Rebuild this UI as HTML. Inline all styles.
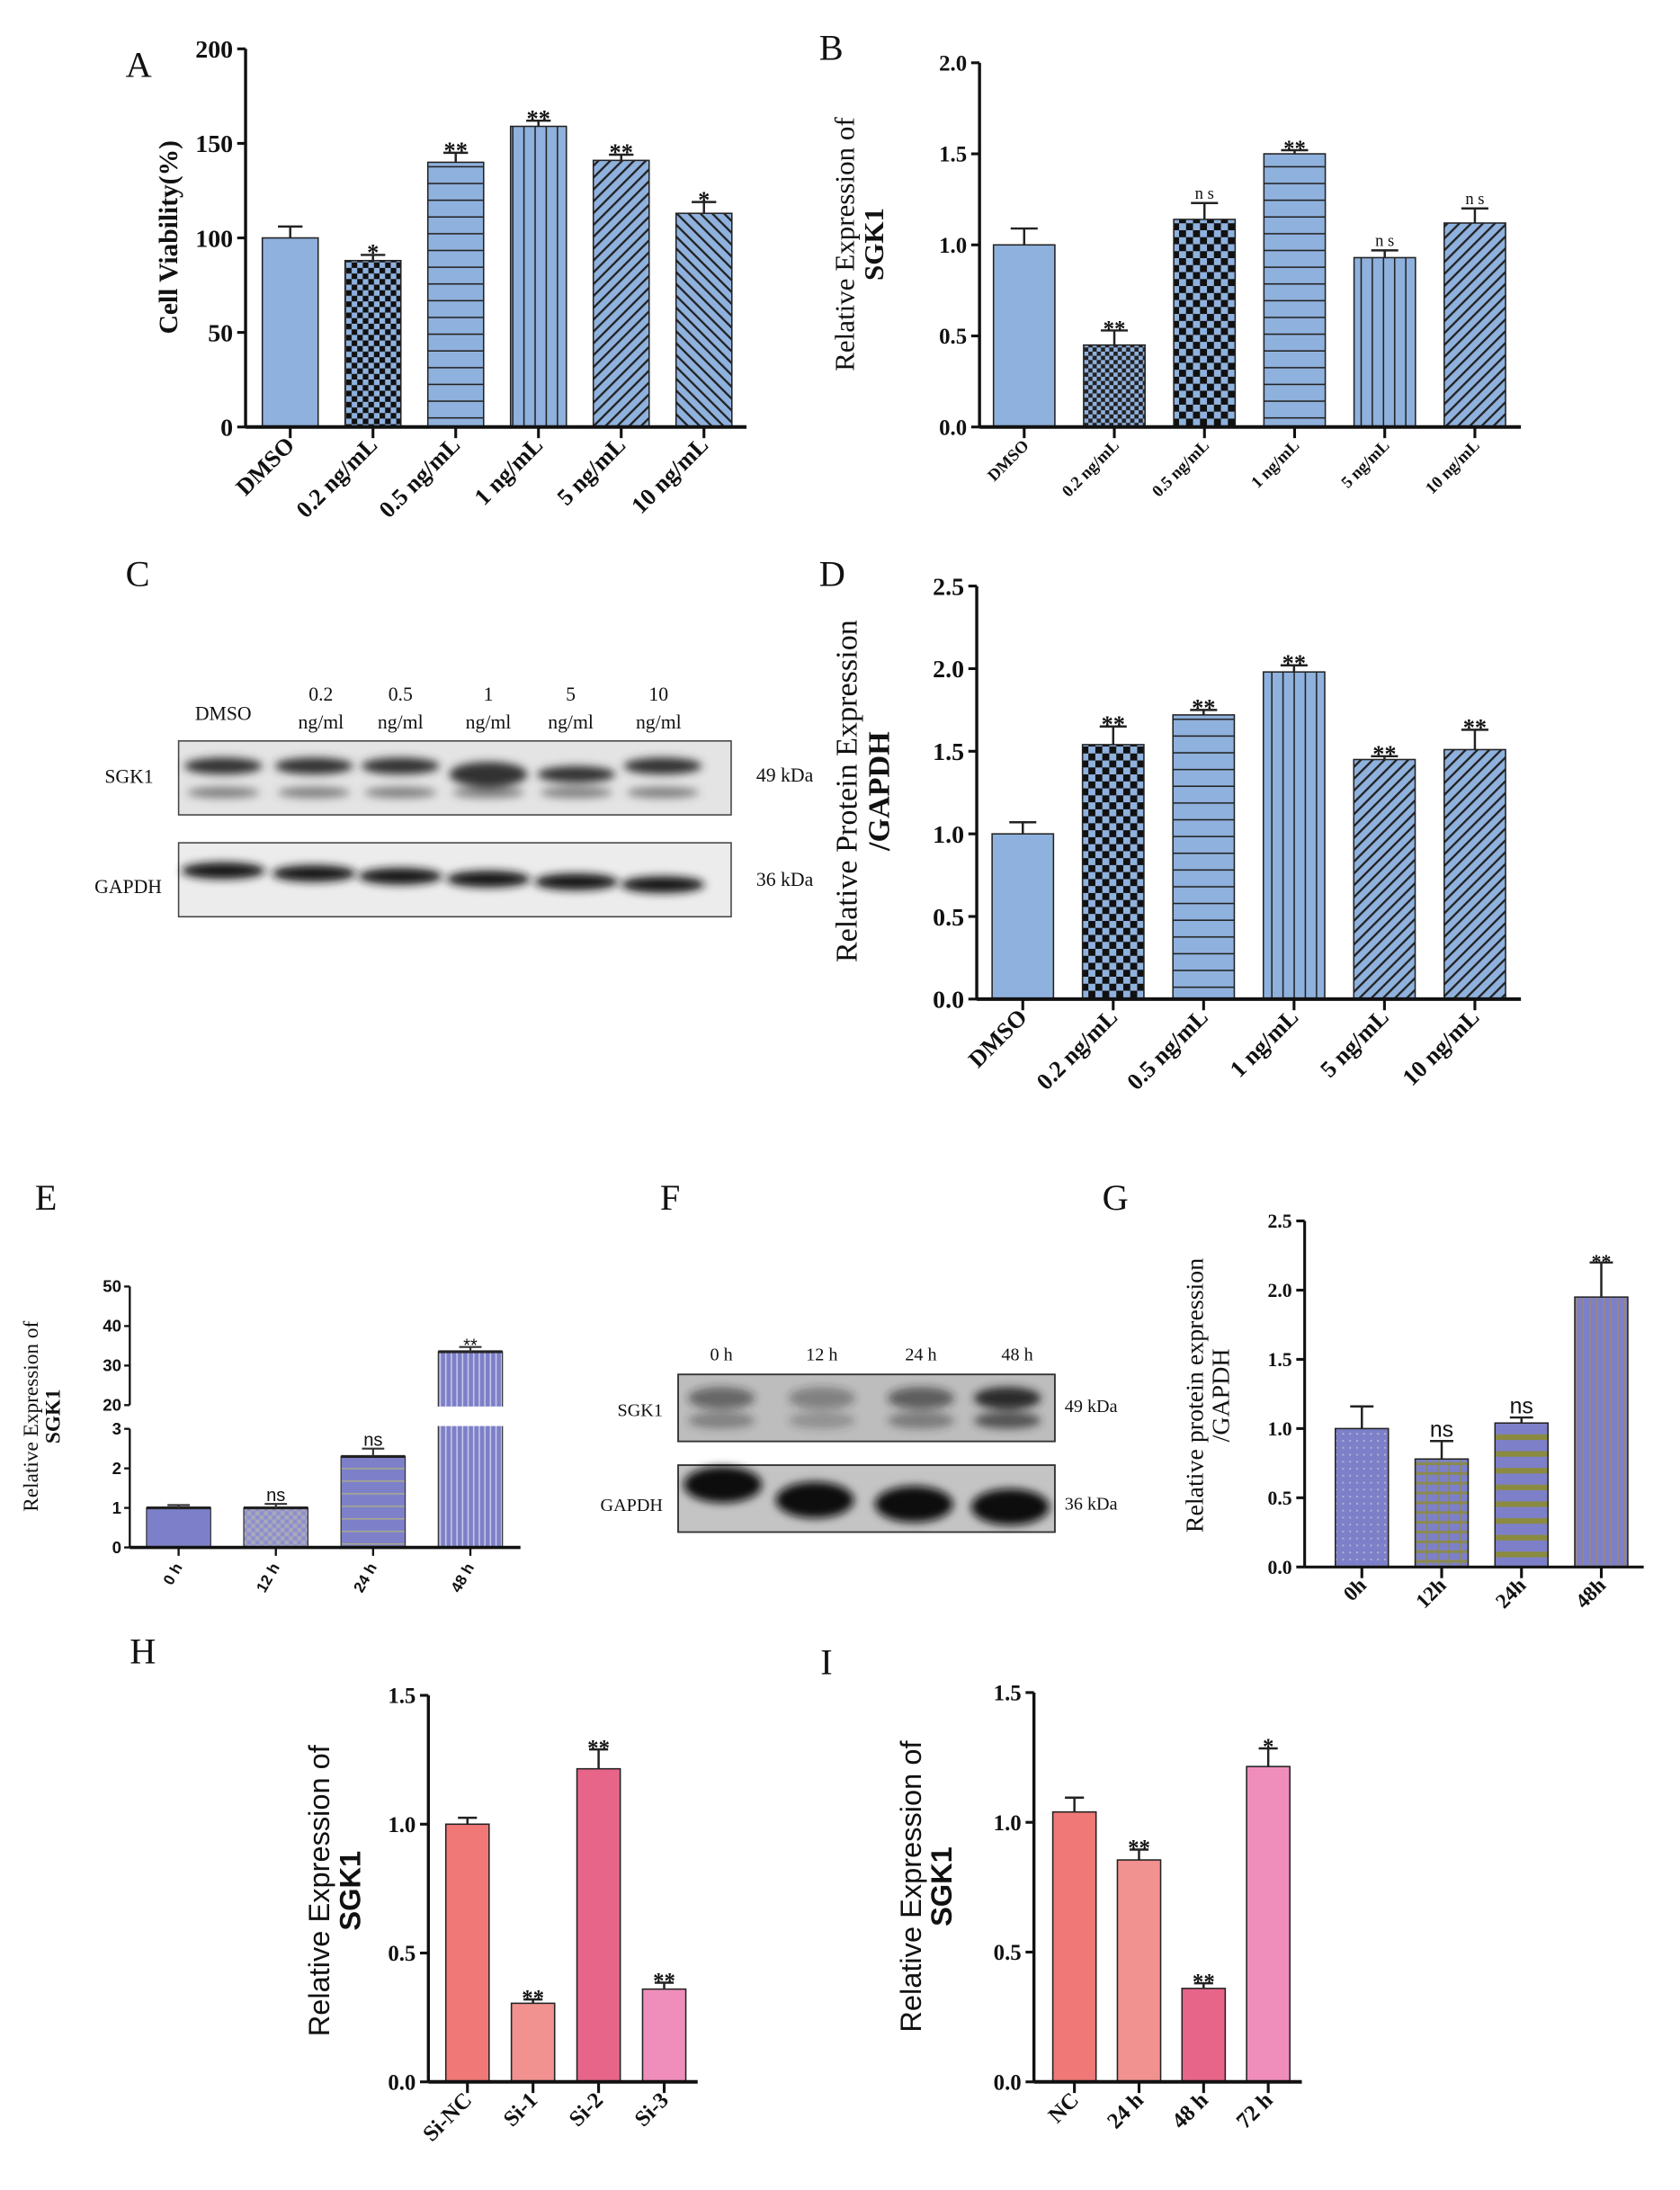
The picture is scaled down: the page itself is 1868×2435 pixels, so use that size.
<!DOCTYPE html>
<html><head><meta charset="utf-8"><style>
html,body{margin:0;padding:0;background:#fff;}
svg{display:block;}
text{font-family:"Liberation Serif",serif;fill:#111;}
.sans{font-family:"Liberation Sans",sans-serif;}
</style></head><body>
<svg id="fig" xmlns="http://www.w3.org/2000/svg" width="1868" height="2435" viewBox="0 0 1204 1569.5" preserveAspectRatio="none">
<defs>
<pattern id="checker" width="8" height="8" patternUnits="userSpaceOnUse"><rect width="8" height="8" fill="#8fb1dd"/><rect width="4" height="4" fill="#111"/><rect x="4" y="4" width="4" height="4" fill="#111"/></pattern>
<pattern id="checkerB" width="10" height="10" patternUnits="userSpaceOnUse"><rect width="10" height="10" fill="#8fb1dd"/><rect width="5" height="5" fill="#111"/><rect x="5" y="5" width="5" height="5" fill="#111"/></pattern>
<pattern id="checkerS" width="6" height="6" patternUnits="userSpaceOnUse"><rect width="6" height="6" fill="#8fb1dd"/><rect width="3" height="3" fill="#222"/><rect x="3" y="3" width="3" height="3" fill="#222"/></pattern>
<pattern id="hlines" width="8" height="12" patternUnits="userSpaceOnUse"><rect width="8" height="12" fill="#8fb1dd"/><rect y="11" width="8" height="1.4" fill="#222"/></pattern>
<pattern id="vlines" width="8" height="8" patternUnits="userSpaceOnUse"><rect width="8" height="8" fill="#8fb1dd"/><rect x="7" width="1.2" height="8" fill="#222"/></pattern>
<pattern id="diag1" width="6" height="6" patternUnits="userSpaceOnUse" patternTransform="rotate(45)"><rect width="6" height="6" fill="#8fb1dd"/><rect width="1.5" height="6" fill="#222"/></pattern>
<pattern id="diag2" width="6" height="6" patternUnits="userSpaceOnUse" patternTransform="rotate(-45)"><rect width="6" height="6" fill="#8fb1dd"/><rect width="1.5" height="6" fill="#222"/></pattern>
<pattern id="eChk" width="6" height="6" patternUnits="userSpaceOnUse"><rect width="6" height="6" fill="#8e8fcf"/><rect width="3" height="3" fill="#a9a9b9"/><rect x="3" y="3" width="3" height="3" fill="#a9a9b9"/></pattern>
<pattern id="eH" width="6" height="9" patternUnits="userSpaceOnUse"><rect width="6" height="9" fill="#7d80c8"/><rect y="8" width="6" height="1" fill="#a8a890"/></pattern>
<pattern id="eV" width="4" height="6" patternUnits="userSpaceOnUse"><rect width="4" height="6" fill="#7d80c8"/><rect x="3" width="1" height="6" fill="#c8c8e8"/></pattern>
<pattern id="gDot" width="5" height="5" patternUnits="userSpaceOnUse"><rect width="5" height="5" fill="#7d80c8"/><rect x="2" y="2" width="1.2" height="1.2" fill="#b8b8d8"/></pattern>
<pattern id="gGrid" width="8" height="7" patternUnits="userSpaceOnUse"><rect width="8" height="7" fill="#7d80c8"/><rect y="5" width="8" height="2" fill="#8a8a50"/><rect x="6" width="1" height="7" fill="#8a8a50"/></pattern>
<pattern id="gH" width="6" height="12" patternUnits="userSpaceOnUse"><rect width="6" height="12" fill="#7d80c8"/><rect y="8" width="6" height="4" fill="#8a8a40"/></pattern>
<pattern id="gV" width="5" height="6" patternUnits="userSpaceOnUse"><rect width="5" height="6" fill="#7d80c8"/><rect x="4" width="1" height="6" fill="#9c8870"/></pattern>
<filter id="blur2"><feGaussianBlur stdDeviation="3"/></filter>
<filter id="blur1"><feGaussianBlur stdDeviation="1.5"/></filter>
</defs>
<g id="root"></g>
</svg>
<script>
// ---------- data ----------
const aCats = ["DMSO","0.2 ng/mL","0.5 ng/mL","1 ng/mL","5 ng/mL","10 ng/mL"];
const aVals = [100,88,140,159,141,113];
const aErrs = [6,3,5,3,3,6];
const aStars = ["","*","**","**","**","*"];
const aTicks = [0,50,100,150,200];

const bCats = ["DMSO","0.2 ng/mL","0.5 ng/mL","1 ng/mL","5 ng/mL","10 ng/mL"];
const bVals = [1.0,0.45,1.14,1.5,0.93,1.12];
const bErrs = [0.09,0.08,0.09,0.02,0.04,0.08];
const bStars = ["","**","ns","**","ns","ns"];
const bTicks = [0,0.5,1.0,1.5,2.0];

const dCats = ["DMSO","0.2 ng/mL","0.5 ng/mL","1 ng/mL","5 ng/mL","10 ng/mL"];
const dVals = [1.0,1.54,1.72,1.98,1.45,1.51];
const dErrs = [0.07,0.11,0.03,0.04,0.02,0.12];
const dStars = ["","**","**","**","**","**"];
const dTicks = [0,0.5,1.0,1.5,2.0,2.5];

const eCats = ["0 h","12 h","24 h","48 h"];
const eVals = [1.0,1.0,2.3,33.5];
const eErrs = [0.07,0.1,0.2,1.2];
const eStars = ["","ns","ns","**"];
const eTicksLow = [0,1,2,3];
const eTicksHigh = [20,30,40,50];

const gCats = ["0h","12h","24h","48h"];
const gVals = [1.0,0.78,1.04,1.95];
const gErrs = [0.16,0.13,0.04,0.25];
const gStars = ["","ns","ns","**"];
const gTicks = [0,0.5,1.0,1.5,2.0,2.5];

const hCats = ["Si-NC","Si-1","Si-2","Si-3"];
const hVals = [1.0,0.305,1.215,0.36];
const hErrs = [0.025,0.015,0.075,0.025];
const hStars = ["","**","**","**"];
const hTicks = [0,0.5,1.0,1.5];

const iCats = ["NC","24 h","48 h","72 h"];
const iVals = [1.04,0.855,0.36,1.215];
const iErrs = [0.055,0.04,0.02,0.07];
const iStars = ["","**","**","*"];
const iTicks = [0,0.5,1.0,1.5];

// ---------- helpers ----------
const NS="http://www.w3.org/2000/svg";
const root=document.getElementById('root');
function mk(tag,attrs,parent,txt){const e=document.createElementNS(NS,tag);for(const k in attrs)e.setAttribute(k,attrs[k]);if(txt!==undefined)e.textContent=txt;(parent||root).appendChild(e);return e;}
function fmt(v,dec){return dec?v.toFixed(1):String(v);}

function chart(c){
  const g=mk('g',{});
  
  
  const y=v=>c.y0-(v-c.min)/(c.max-c.min)*(c.y0-c.yTop);
  const bx=i=>c.first+i*c.step;
  c.vals.forEach((v,i)=>{
    const x=bx(i);
    const r=mk('rect',{x:x-c.bw/2,y:y(v),width:c.bw,height:c.y0-y(v),fill:c.fills[i],stroke:'#222','stroke-width':1},g);
    
    
    const et=y(v+c.errs[i]);
    const eb=mk('path',{d:`M${x} ${y(v)}V${et}M${x-c.bw*0.22} ${et}H${x+c.bw*0.22}`,stroke:'#222','stroke-width':1.6,fill:'none'},g);
    
    
    if(c.stars[i]){
      const isNs=c.stars[i]==='ns';
      const t=mk('text',{x:x,y:et-(isNs?3:-4),'text-anchor':'middle','font-size':isNs?c.nsSize:c.starSize,'font-weight':isNs?'normal':'bold',class:c.nsSans&&isNs?'sans':''},g,isNs&&c.nsSpaced?'n s':c.stars[i]);
      
      
    }
  });
  const ax=mk('path',{d:`M${c.ax} ${c.yTop}V${c.y0}`,stroke:'#111','stroke-width':c.axw||2.2,fill:'none'},g);
  
  
  const xa=mk('path',{d:`M${c.ax} ${c.y0}H${c.xEnd}`,stroke:'#111','stroke-width':c.axw||2.6,fill:'none'},g);
  
  
  c.ticks.forEach(t=>{
    mk('path',{d:`M${c.ax-6} ${y(t)}H${c.ax}`,stroke:'#111','stroke-width':2},g);
    const tl=mk('text',{x:c.ax-9,y:y(t)+c.tickSize*0.35,'text-anchor':'end','font-size':c.tickSize,'font-weight':'bold'},g,fmt(t,c.dec));
    
    
  });
  c.cats.forEach((cat,i)=>{
    const x=bx(i);
    mk('path',{d:`M${x} ${c.y0}V${c.y0+8}`,stroke:'#111','stroke-width':2},g);
    const tl=mk('text',{x:x+4,y:c.y0+14,'text-anchor':'end','font-size':c.catSize,'font-weight':'bold',transform:`rotate(-45 ${x+4} ${c.y0+14})`,class:c.catSans?'sans':''},g,cat);
    
    
  });
  return {g,y};
}
function ytitle(name,x,cy,lines,size,cls){
  const t=mk('text',{x:0,y:0,'text-anchor':'middle','font-size':size,transform:`translate(${x} ${cy}) rotate(-90)`,class:cls||''});
  
  
  lines.forEach((l,i)=>{mk('tspan',{x:0,dy:i?size*1.05:0,'font-weight':l.b?'bold':'normal'},t,l.t);});
}
function panelLabel(l,x,y){const t=mk('text',{x:x,y:y,'font-size':26},root,l);}

// ---------- A ----------
panelLabel('A',90,55);
chart({name:'chart-a-cell-viability',cats:aCats,vals:aVals,errs:aErrs,stars:aStars,ticks:aTicks,min:0,max:200,y0:306,yTop:35,ax:176,xEnd:535,first:208,step:59.3,bw:40,
  fills:['#8fb1dd','url(#checker)','url(#hlines)','url(#vlines)','url(#diag1)','url(#diag2)'],tickSize:18,catSize:17,starSize:17,nsSize:13});
ytitle('y-axis-title-a',127,170,[{t:'Cell Viability(%)',b:1}],19);

// ---------- B ----------
panelLabel('B',587,43);
chart({name:'chart-b-sgk1-mrna',cats:bCats,vals:bVals,errs:bErrs,stars:bStars,ticks:bTicks,min:0,max:2,y0:306,yTop:45,ax:702,xEnd:1090,first:734,step:64.6,bw:44,dec:1,
  fills:['#8fb1dd','url(#checkerS)','url(#checkerB)','url(#hlines)','url(#vlines)','url(#diag1)'],tickSize:16,catSize:12,starSize:16,nsSize:12,nsSpaced:1});
ytitle('y-axis-title-b',612,175,[{t:'Relative Expression of'},{t:'SGK1',b:1}],20);

// ---------- C (western blot) ----------
panelLabel('C',90,420);
(function(){
  const g=mk('g',{});
  const lanes=[160,230,287,350,409,472];
  const labs=[["DMSO"],["0.2","ng/ml"],["0.5","ng/ml"],["1","ng/ml"],["5","ng/ml"],["10","ng/ml"]];
  labs.forEach((l,i)=>{l.forEach((s,j)=>{const t=mk('text',{x:lanes[i],y:(l.length===1?516:502+j*20),'text-anchor':'middle','font-size':14},g,s);});});
  mk('rect',{x:128,y:531,width:396,height:53,fill:'#e4e4e4',stroke:'#444','stroke-width':1},g);
  mk('rect',{x:128,y:604,width:396,height:53,fill:'#ececec',stroke:'#444','stroke-width':1},g);
  const bandX=[160,225,287,350,413,475];
  const sg=mk('g',{filter:'url(#blur2)'},g);
  bandX.forEach((x,i)=>{
    mk('ellipse',{cx:x,cy:i==3||i==4?555:549,rx:28,ry:i==3?9:6,fill:'#333'},sg);
    mk('ellipse',{cx:x,cy:568,rx:26,ry:4,fill:'#555',opacity:0.7},sg);
    mk('ellipse',{cx:x,cy:624+i*2,rx:30,ry:6,fill:'#151515'},sg);
  });
  [["SGK1",110,561,'#888'],["GAPDH",116,640,'#111']].forEach(a=>{const t=mk('text',{x:a[1],y:a[2],'text-anchor':'end','font-size':14,fill:a[3]},g,a[0]);});
  [["49 kDa",560],["36 kDa",635]].forEach(a=>{const t=mk('text',{x:542,y:a[1],'font-size':14},g,a[0]);});
})();

// ---------- D ----------
panelLabel('D',587,420);
chart({name:'chart-d-protein',cats:dCats,vals:dVals,errs:dErrs,stars:dStars,ticks:dTicks,min:0,max:2.5,y0:716,yTop:420,ax:700,xEnd:1090,first:733,step:64.8,bw:44,dec:1,
  fills:['#8fb1dd','url(#checkerB)','url(#hlines)','url(#vlines)','url(#diag1)','url(#diag1)'],tickSize:18,catSize:17,starSize:17,nsSize:13});
ytitle('y-axis-title-d',614,567,[{t:'Relative Protein Expression'},{t:'/GAPDH',b:1}],22);

// ---------- E (broken axis) ----------
panelLabel('E',25,867);
(function(){
  const g=mk('g',{});
  const y0=1109,yL3=1024,yH20=1007,yH50=922;
  const y=v=>v<=3? y0-v/3*(y0-yL3) : yH20-(v-20)/30*(yH20-yH50);
  const first=128,step=69.7,bw=46;
  const fills=['#7d80c8','url(#eChk)','url(#eH)','url(#eV)'];
  eVals.forEach((v,i)=>{
    const x=first+i*step;
    const r=mk('rect',{x:x-bw/2,y:y(v),width:bw,height:y0-y(v),fill:fills[i],stroke:'#333','stroke-width':0.8},g);
    
    
    if(v>3) mk('rect',{x:x-bw/2-1,y:yH20+1,width:bw+2,height:yL3-yH20-3,fill:'#fff'},g);
    mk('path',{d:`M${x-bw/2} ${y(v)}H${x+bw/2}`,stroke:'#222','stroke-width':2},g);
    const et=y(v+eErrs[i]);
    const eb=mk('path',{d:`M${x} ${y(v)}V${et}M${x-8} ${et}H${x+8}`,stroke:'#333','stroke-width':1.4,fill:'none'},g);
    
    if(eStars[i]){const t=mk('text',{x:x,y:et-(eStars[i]==='ns'?2:-3),'text-anchor':'middle','font-size':13,class:'sans'},g,eStars[i]);}
    mk('path',{d:`M${x} ${y0}V${y0+6}`,stroke:'#111','stroke-width':1.5},g);
    const tl=mk('text',{x:x+3,y:y0+14,'text-anchor':'end','font-size':11,'font-weight':'bold',class:'sans',transform:`rotate(-60 ${x+3} ${y0+14})`},g,eCats[i]);
    
  });
  mk('path',{d:`M93 ${y0}V${yL3}M93 ${yH20}V${yH50}`,stroke:'#111','stroke-width':1.5,fill:'none'},g);
  mk('path',{d:`M93 ${y0}H373`,stroke:'#111','stroke-width':2.4},g);
  eTicksLow.concat(eTicksHigh).forEach(t=>{
    mk('path',{d:`M89 ${y(t)}H93`,stroke:'#111','stroke-width':1.5},g);
    const tl=mk('text',{x:87,y:y(t)+4,'text-anchor':'end','font-size':12,'font-weight':'bold',class:'sans'},g,String(t));
    
  });
})();
ytitle('y-axis-title-e',27,1015,[{t:'Relative Expression of'},{t:'SGK1',b:1}],15);

// ---------- F (western blot) ----------
panelLabel('F',473,867);
(function(){
  const g=mk('g',{});
  const lanes=[517,589,660,729];
  ["0 h","12 h","24 h","48 h"].forEach((s,i)=>{const t=mk('text',{x:lanes[i],y:975,'text-anchor':'middle','font-size':13},g,s);});
  mk('rect',{x:486,y:985,width:270,height:48,fill:'#bdbdbd',stroke:'#333','stroke-width':1.2},g);
  mk('rect',{x:486,y:1050,width:270,height:48,fill:'#c4c4c4',stroke:'#333','stroke-width':1.2},g);
  const bg=mk('g',{filter:'url(#blur2)'},g);
  [[517,0.55],[589,0.4],[660,0.6],[722,0.95]].forEach(([x,o])=>{mk('ellipse',{cx:x,cy:1002,rx:24,ry:8,fill:'#222',opacity:o},bg);mk('ellipse',{cx:x,cy:1018,rx:24,ry:6,fill:'#333',opacity:o*0.8},bg);});
  [[518,1064],[584,1075],[655,1078],[724,1080]].forEach(([x,yy])=>mk('ellipse',{cx:x,cy:yy,rx:28,ry:13,fill:'#0c0c0c'},bg));
  [["SGK1",1015],["GAPDH",1083]].forEach(a=>{const t=mk('text',{x:475,y:a[1],'text-anchor':'end','font-size':13},g,a[0]);});
  [["49 kDa",1012],["36 kDa",1082]].forEach(a=>{const t=mk('text',{x:763,y:a[1],'font-size':13},g,a[0]);});
})();

// ---------- G ----------
panelLabel('G',790,867);
chart({name:'chart-g-protein-time',cats:gCats,vals:gVals,errs:gErrs,stars:gStars,ticks:gTicks,min:0,max:2.5,y0:1123,yTop:875,ax:935,xEnd:1178,first:976,step:57.2,bw:38,dec:1,axw:2,
  fills:['url(#gDot)','url(#gGrid)','url(#gH)','url(#gV)'],tickSize:14,catSize:15,starSize:14,nsSize:16,nsSans:1});
ytitle('y-axis-title-g',862,1000,[{t:'Relative protein expression'},{t:'/GAPDH'}],18);

// ---------- H ----------
panelLabel('H',93,1192);
chart({name:'chart-h-sirna',cats:hCats,vals:hVals,errs:hErrs,stars:hStars,ticks:hTicks,min:0,max:1.5,y0:1492,yTop:1215,ax:307,xEnd:500,first:335,step:47,bw:31,dec:1,
  fills:['#f07876','#f19190','#e8658a','#ef8ebb'],tickSize:16,catSize:16,starSize:16,nsSize:13});
ytitle('y-axis-title-h',236,1355,[{t:'Relative Expression of'},{t:'SGK1',b:1}],21,'sans');

// ---------- I ----------
panelLabel('I',588,1200);
chart({name:'chart-i-time',cats:iCats,vals:iVals,errs:iErrs,stars:iStars,ticks:iTicks,min:0,max:1.5,y0:1492,yTop:1213,ax:741,xEnd:933,first:770,step:46.3,bw:31,dec:1,
  fills:['#f07876','#f19190','#e8658a','#ef8ebb'],tickSize:16,catSize:16,starSize:16,nsSize:13});
ytitle('y-axis-title-i',660,1352,[{t:'Relative Expression of'},{t:'SGK1',b:1}],21,'sans');
</script>
</body></html>
